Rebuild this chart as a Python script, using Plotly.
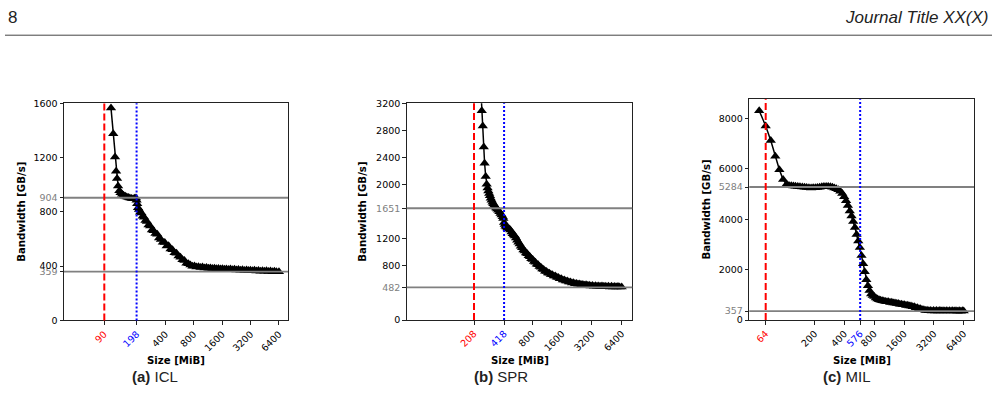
import plotly.graph_objects as go

W, H = 999, 412

# ---------------- data ----------------
ICL_SIZE = [106, 112, 117, 120, 123, 126, 130, 134, 139, 144,
            150, 156, 162, 168, 175, 182, 189, 195, 198, 201,
            205, 210, 216, 223, 230, 238, 246, 255, 265, 276,
            288, 300, 314, 328, 343, 359, 376, 394, 413, 433,
            454, 476, 500, 525, 551, 578, 607, 637, 669, 702,
            737, 774, 813, 854, 897, 942, 989, 1040, 1090, 1145,
            1200, 1260, 1325, 1390, 1460, 1535, 1610, 1690, 1775, 1865,
            1960, 2060, 2160, 2270, 2380, 2500, 2625, 2760, 2900, 3040,
            3190, 3350, 3520, 3700, 3880, 4080, 4280, 4490, 4720, 4950,
            5200, 5460, 5730, 6020, 6400]
ICL_BW = [1565, 1375, 1205, 1100, 1045, 990, 955, 940, 930, 922,
          915, 910, 905, 902, 898, 896, 900, 902, 885, 860,
          830, 818, 797, 792, 768, 761, 737, 728, 704, 696,
          666, 661, 640, 634, 608, 596, 576, 575, 549, 550,
          526, 520, 499, 494, 474, 466, 446, 442, 422, 418,
          408, 399, 400, 394, 396, 390, 393, 387, 390, 384,
          387, 382, 385, 380, 383, 378, 381, 376, 379, 375,
          378, 373, 376, 371, 375, 370, 373, 368, 372, 367,
          370, 366, 369, 364, 368, 363, 366, 362, 365, 360,
          364, 359, 362, 358, 359]

SPR_SIZE = [243, 249, 255, 261, 266, 273, 279, 285, 290, 296,
            301, 307, 313, 320, 326, 333, 340, 348, 356, 365,
            375, 385, 395, 405, 411, 418, 425, 433, 442, 452,
            462, 472, 484, 497, 510, 524, 538, 552, 567, 583,
            600, 617, 635, 655, 675, 695, 717, 740, 763, 787,
            812, 838, 865, 893, 922, 952, 983, 1015, 1048, 1083,
            1120, 1158, 1197, 1238, 1280, 1325, 1372, 1420, 1470, 1522,
            1576, 1632, 1690, 1750, 1813, 1880, 1950, 2020, 2095, 2170,
            2250, 2335, 2420, 2510, 2600, 2700, 2800, 2900, 3010, 3120,
            3240, 3360, 3490, 3620, 3760, 3900, 4050, 4200, 4360, 4530,
            4700, 4880, 5060, 5250, 5450, 5660, 5870, 6100, 6400]
SPR_BW = [3450, 3090, 2865, 2555, 2315, 2120, 2005, 1950, 1905, 1870,
          1835, 1800, 1770, 1740, 1716, 1695, 1675, 1655, 1640, 1620,
          1600, 1575, 1550, 1525, 1500, 1440, 1410, 1385, 1375, 1360,
          1350, 1345, 1330, 1300, 1275, 1255, 1240, 1210, 1180, 1150,
          1124, 1091, 1069, 1036, 1019, 991, 979, 951, 934, 906,
          894, 866, 854, 826, 816, 791, 781, 756, 746, 721,
          716, 696, 692, 672, 670, 651, 649, 631, 629, 611,
          610, 593, 592, 576, 577, 562, 563, 549, 551, 538,
          541, 529, 533, 521, 526, 515, 520, 509, 515, 505,
          511, 501, 507, 498, 505, 496, 503, 494, 501, 492,
          499, 490, 498, 489, 497, 488, 496, 487, 490]

MIL_SIZE = [55, 64, 72, 80, 88, 96, 104, 110, 116, 122,
            128, 135, 142, 150, 158, 166, 175, 184, 193, 203,
            213, 224, 236, 248, 261, 274, 288, 302, 316, 331,
            347, 363, 380, 397, 415, 433, 452, 471, 490, 510,
            530, 551, 572, 594, 617, 640, 665, 690, 716, 743,
            771, 800, 830, 861, 893, 927, 962, 998, 1036, 1075,
            1116, 1158, 1202, 1248, 1295, 1344, 1395, 1448, 1503, 1560,
            1620, 1680, 1745, 1810, 1880, 1950, 2025, 2100, 2180, 2265,
            2350, 2440, 2535, 2630, 2730, 2835, 2940, 3050, 3170, 3290,
            3410, 3540, 3680, 3820, 3960, 4110, 4270, 4430, 4600, 4780,
            4960, 5150, 5350, 5550, 5760, 5980, 6200, 6400]
MIL_BW = [8310, 7710, 7130, 6510, 5970, 5580, 5390, 5340, 5330, 5320,
          5310, 5300, 5290, 5285, 5270, 5260, 5250, 5245, 5250, 5255,
          5265, 5275, 5290, 5300, 5305, 5300, 5290, 5270, 5245, 5215,
          5180, 5120, 5030, 4900, 4740, 4550, 4330, 4130, 3910, 3680,
          3400, 3140, 2880, 2560, 2240, 1920, 1600, 1360, 1170, 1040,
          975, 935, 880, 840, 808, 785, 768, 754, 742, 732,
          726, 699, 704, 677, 682, 654, 658, 630, 633, 604,
          608, 580, 584, 555, 558, 527, 526, 490, 486, 450,
          446, 410, 408, 378, 386, 366, 380, 363, 378, 361,
          377, 360, 376, 359, 375, 358, 374, 357, 373, 356,
          372, 356, 371, 355, 371, 354, 370, 362]

# reference lines: red dashed, blue dotted, gray horizontals
ICL_RED, ICL_BLUE, ICL_HLINES = 90, 198, [904, 359]
SPR_RED, SPR_BLUE, SPR_HLINES = 208, 418, [1651, 482]
MIL_RED, MIL_BLUE, MIL_HLINES = 64, 576, [5284, 357]

ICL_XTICKS = [90, 198, 400, 800, 1600, 3200, 6400]
SPR_XTICKS = [208, 418, 800, 1600, 3200, 6400]
MIL_XTICKS = [64, 200, 400, 576, 800, 1600, 3200, 6400]
ICL_YTICKS = [0, 359, 400, 800, 904, 1200, 1600]
SPR_YTICKS = [0, 482, 800, 1200, 1651, 2000, 2400, 2800, 3200]
MIL_YTICKS = [0, 357, 2000, 4000, 5284, 6000, 8000]

CAPTIONS = [("(a)", "ICL"), ("(b)", "SPR"), ("(c)", "MIL")]

# ---------------- layout helpers ----------------
panels = [
    dict(size=ICL_SIZE, bw=ICL_BW, red=ICL_RED, blue=ICL_BLUE, hl=ICL_HLINES,
         xt=ICL_XTICKS, yt=ICL_YTICKS, xr=[1.527, 3.902], yr=[0, 1600],
         px=(64, 288), py=(100, 323), ytx=22, cap=CAPTIONS[0], capx=155),
    dict(size=SPR_SIZE, bw=SPR_BW, red=SPR_RED, blue=SPR_BLUE, hl=SPR_HLINES,
         xt=SPR_XTICKS, yt=SPR_YTICKS, xr=[1.640, 3.913], yr=[0, 3200],
         px=(406.7, 632.3), py=(100, 322.7), ytx=363, cap=CAPTIONS[1], capx=501),
    dict(size=MIL_SIZE, bw=MIL_BW, red=MIL_RED, blue=MIL_BLUE, hl=MIL_HLINES,
         xt=MIL_XTICKS, yt=MIL_YTICKS, xr=[1.6405, 3.9103], yr=[0, 8773],
         px=(749.3, 974), py=(95.7, 322.7), ytx=707, cap=CAPTIONS[2], capx=847),
]

def fx(px):
    return px / W

def fy(py):
    return 1 - py / H

TICKFONT = dict(family="DejaVu Sans", size=9.5, color="black")
TITLEFONT = dict(family="DejaVu Sans", size=10.2, color="black")

fig = go.Figure()
shapes = []
annotations = []
layout_axes = {}

for i, p in enumerate(panels):
    k = "" if i == 0 else str(i + 1)
    fig.add_trace(go.Scatter(
        x=p["size"], y=p["bw"], mode="lines+markers",
        xaxis="x" + k, yaxis="y" + k, showlegend=False,
        line=dict(color="black", width=1.5),
        marker=dict(symbol="triangle-up", size=9, color="black"),
    ))

    def xlab(v, p=p):
        if v == p["red"]:
            return '<span style="color:#ff0000">%d</span>' % v
        if v == p["blue"]:
            return '<span style="color:#0000ff">%d</span>' % v
        return str(v)

    def ylab(v, p=p):
        if v in p["hl"]:
            return '<span style="color:#808080">%d</span>' % v
        return str(v)

    common = dict(showline=True, mirror=True, linecolor="#222", linewidth=1,
                  ticks="outside", ticklen=3.5, tickwidth=1, tickcolor="#222",
                  showgrid=False, zeroline=False, tickfont=TICKFONT,
                  fixedrange=True)
    layout_axes["xaxis" + k] = dict(
        common, type="log", range=p["xr"],
        domain=[fx(p["px"][0]), fx(p["px"][1])],
        anchor="y" + k, tickmode="array", tickvals=p["xt"],
        ticktext=[xlab(v) for v in p["xt"]], tickangle=-45)
    layout_axes["yaxis" + k] = dict(
        common, range=p["yr"],
        domain=[fy(p["py"][1]), fy(p["py"][0])],
        anchor="x" + k, tickmode="array", tickvals=p["yt"],
        ticktext=[ylab(v) for v in p["yt"]])

    for v in p["hl"]:
        shapes.append(dict(type="line", xref="x%s domain" % k, x0=0, x1=1,
                           yref="y" + k, y0=v, y1=v,
                           line=dict(color="#808080", width=1.8)))
    shapes.append(dict(type="line", xref="x" + k, x0=p["red"], x1=p["red"],
                       yref="y%s domain" % k, y0=0, y1=1,
                       line=dict(color="#ff0000", width=2, dash="7px,3px")))
    shapes.append(dict(type="line", xref="x" + k, x0=p["blue"], x1=p["blue"],
                       yref="y%s domain" % k, y0=0, y1=1,
                       line=dict(color="#0000ff", width=2, dash="2px,2px")))

    # axis titles
    annotations.append(dict(text="<b>Bandwidth [GB/s]</b>", textangle=-90,
                            x=fx(p["ytx"]), y=fy((p["py"][0] + p["py"][1]) / 2),
                            xref="paper", yref="paper", showarrow=False,
                            xanchor="center", yanchor="middle", font=TITLEFONT))
    annotations.append(dict(text="<b>Size [MiB]</b>",
                            x=fx((p["px"][0] + p["px"][1]) / 2), y=fy(364),
                            xref="paper", yref="paper", showarrow=False,
                            xanchor="center", yanchor="middle", font=TITLEFONT))
    # sub-figure caption
    annotations.append(dict(text="<b>%s</b> %s" % p["cap"],
                            x=fx(p["capx"]), y=fy(381),
                            xref="paper", yref="paper", showarrow=False,
                            xanchor="center", yanchor="middle",
                            font=dict(family="Liberation Sans", size=15, color="#222")))

# page header
annotations.append(dict(text="8", x=fx(6), y=fy(12), xref="paper", yref="paper",
                        showarrow=False, xanchor="left", yanchor="middle",
                        font=dict(family="Liberation Sans", size=17, color="#222")))
annotations.append(dict(text="<i>Journal Title XX(X)</i>", x=fx(991), y=fy(12),
                        xref="paper", yref="paper", showarrow=False,
                        xanchor="right", yanchor="middle",
                        font=dict(family="Liberation Sans", size=17, color="#222")))
shapes.append(dict(type="line", xref="paper", yref="paper",
                   x0=fx(5), x1=fx(992), y0=fy(30), y1=fy(30),
                   line=dict(color="#444", width=1)))

fig.update_layout(
    width=W, height=H, autosize=False,
    margin=dict(l=0, r=0, t=0, b=0),
    paper_bgcolor="white", plot_bgcolor="white",
    shapes=shapes, annotations=annotations,
    **layout_axes,
)

fig.write_html("out.html")
